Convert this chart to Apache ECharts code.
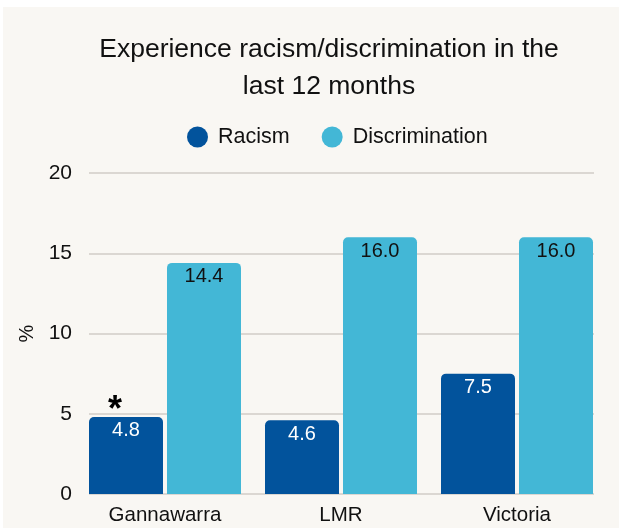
<!DOCTYPE html>
<html>
<head>
<meta charset="utf-8">
<script src="https://cdn.jsdelivr.net/npm/echarts@6/dist/echarts.min.js"></script>
<style>
html,body{margin:0;padding:0;background:#ffffff;}
#chart{width:627px;height:528px;}
</style>
</head>
<body>
<div id="chart"></div>
<script>
const categories = ['Gannawarra', 'LMR', 'Victoria'];
const racism = [4.8, 4.6, 7.5];
const discrimination = [14.4, 16.0, 16.0];
const seriesNames = ['Racism', 'Discrimination'];
const titleText = 'Experience racism/discrimination in the\nlast 12 months';
const yTicks = { min: 0, max: 20, interval: 5 };

const FONT = '"Liberation Sans", Arial, sans-serif';
const chart = echarts.init(document.getElementById('chart'), null, { renderer: 'canvas' });

chart.setOption({
  backgroundColor: '#ffffff',
  graphic: [{
    type: 'rect', z: -10, silent: true,
    shape: { x: 3, y: 7, width: 616, height: 521 },
    style: { fill: '#f9f7f3' }
  }],
  title: {
    text: titleText,
    left: 324, top: 26, textAlign: 'center',
    textStyle: { fontFamily: FONT, fontSize: 26.5, fontWeight: 'normal', color: '#111111', lineHeight: 37, align: 'center' }
  },
  legend: {
    top: 121, left: 182,
    icon: 'circle', itemWidth: 21, itemHeight: 21, itemGap: 32,
    textStyle: { fontFamily: FONT, fontSize: 21.5, color: '#111111', padding: [0, 0, 0, 5] },
    data: seriesNames
  },
  grid: [
    { left: 89, right: 33, top: 173, bottom: 34 },
    { left: 77, right: 22, top: 173, bottom: 34 }
  ],
  xAxis: [
    { type: 'category', gridIndex: 0, data: categories, show: false },
    {
      type: 'category', gridIndex: 1, data: categories,
      axisLine: { show: false }, axisTick: { show: false },
      axisLabel: { fontFamily: FONT, fontSize: 20.5, color: '#111111', margin: 11 }
    }
  ],
  yAxis: [
    {
      type: 'value', gridIndex: 0, min: yTicks.min, max: yTicks.max, interval: yTicks.interval,
      name: '%', nameLocation: 'middle', nameGap: 52, nameRotate: 90,
      nameTextStyle: { fontFamily: FONT, fontSize: 20, color: '#111111' },
      axisLine: { show: false }, axisTick: { show: false },
      axisLabel: { fontFamily: FONT, fontSize: 21, color: '#111111', margin: 17 },
      splitLine: { lineStyle: { color: '#d0ccc7', width: 1.5 } }
    },
    {
      type: 'value', gridIndex: 1, min: yTicks.min, max: yTicks.max, interval: yTicks.interval,
      show: false, splitLine: { show: false }
    }
  ],
  series: [
    {
      name: seriesNames[0], type: 'bar', xAxisIndex: 1, yAxisIndex: 1,
      data: racism, barWidth: 74, barGap: '5.4%',
      itemStyle: { color: '#02539c', borderRadius: [5, 5, 0, 0] },
      label: {
        show: true, position: 'insideTop', distance: 4,
        fontFamily: FONT, fontSize: 20, color: '#ffffff',
        formatter: p => p.value.toFixed(1)
      },
      markPoint: {
        symbol: 'circle', symbolSize: 0,
        data: [{ coord: [categories[0], racism[0]] }],
        label: {
          show: true, position: 'top', formatter: '*', offset: [-11, 17],
          fontFamily: FONT, fontSize: 36, fontWeight: 'bold', color: '#000000'
        }
      }
    },
    {
      name: seriesNames[1], type: 'bar', xAxisIndex: 1, yAxisIndex: 1,
      data: discrimination, barWidth: 74,
      itemStyle: { color: '#43b7d6', borderRadius: [5, 5, 0, 0] },
      label: {
        show: true, position: 'insideTop', distance: 4,
        fontFamily: FONT, fontSize: 20, color: '#111111',
        formatter: p => p.value.toFixed(1)
      }
    }
  ]
});
</script>
</body>
</html>
